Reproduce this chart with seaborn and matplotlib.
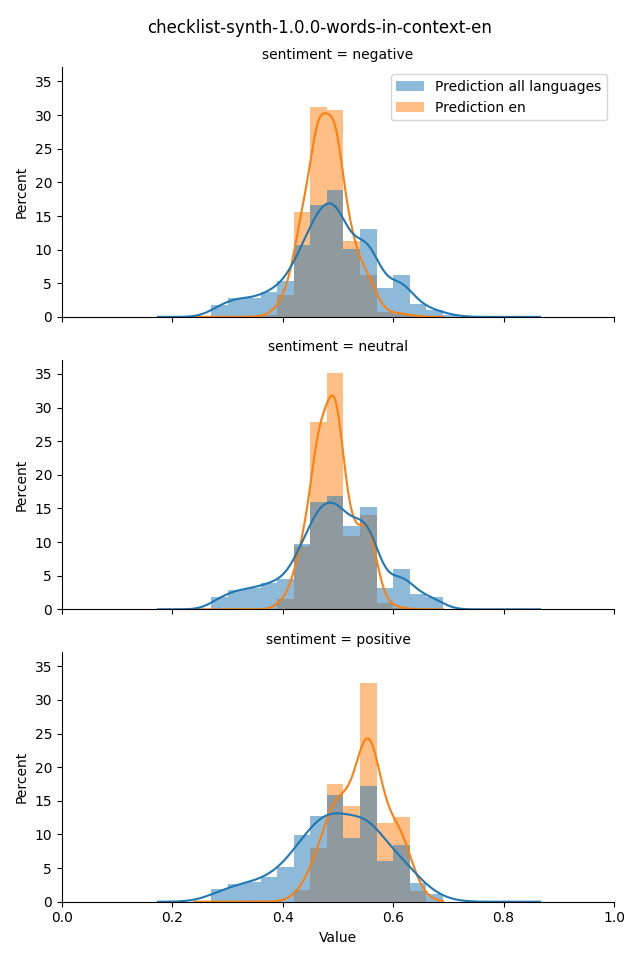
import numpy as np
import pandas as pd
import matplotlib
matplotlib.use("Agg")
import matplotlib.pyplot as plt
import seaborn as sns

# bin edges 0.18 .. 0.87, step 0.03 (23 bins)
bin_edges = [round(0.18 + 0.03 * i, 2) for i in range(24)]
sentiments = ["negative", "neutral", "positive"]
series_labels = ["Prediction all languages", "Prediction en"]

# percent per bin
all_negative = [0, 0, 0.1, 1.8, 2.9, 2.8, 3.8, 5.4, 10.7, 16.7, 19.0, 10.2,
                13.2, 4.4, 6.3, 2.0, 1.1, 0.3, 0, 0, 0, 0, 0]
en_negative = [0, 0, 0, 0, 0, 0, 0.3, 3.2, 15.6, 31.4, 30.9, 11.4,
               6.3, 0.8, 0.5, 0.1, 0, 0, 0, 0, 0, 0, 0]

all_neutral = [0, 0, 0, 1.8, 2.9, 3.1, 3.9, 4.5, 9.7, 15.9, 16.8, 12.3,
               15.1, 3.2, 6.0, 2.3, 1.8, 0, 0, 0, 0, 0, 0]
en_neutral = [0, 0, 0, 0, 0, 0, 0, 1.5, 9.4, 27.8, 35.2, 10.9,
              14.0, 1.0, 0.2, 0, 0, 0, 0, 0, 0, 0, 0]

all_positive = [0, 0, 0, 1.9, 2.6, 2.9, 3.7, 5.2, 9.9, 12.7, 15.8, 9.5,
                17.2, 6.0, 8.4, 2.8, 1.2, 0, 0, 0, 0, 0, 0]
en_positive = [0, 0, 0, 0, 0, 0, 0, 0, 1.8, 8.0, 17.6, 14.2,
               32.6, 11.8, 12.7, 1.6, 0, 0, 0, 0, 0, 0, 0]

# range of the raw predictions (kde support)
kde_support = {"Prediction all languages": (0.174, 0.866),
               "Prediction en": (0.24, 0.69)}

data = {
    "negative": (all_negative, en_negative),
    "neutral": (all_neutral, en_neutral),
    "positive": (all_positive, en_positive),
}

# kde smoothing per panel (all languages, en)
bw = {"negative": (0.38, 0.5), "neutral": (0.38, 0.5), "positive": (0.55, 0.55)}


def main():
    centers = [(a + b) / 2 for a, b in zip(bin_edges[:-1], bin_edges[1:])]
    colors = sns.color_palette("tab10")[:2]

    fig, axes = plt.subplots(3, 1, figsize=(6.4, 9.6), sharex=True, sharey=True)
    for ax, sent in zip(axes, sentiments):
        series = list(zip(series_labels, data[sent], colors, bw[sent]))
        # en first so the all-languages bars sit on top (grey overlap)
        for label, heights, color, adj in reversed(series):
            df = pd.DataFrame({"Value": centers, "w": heights})
            sns.histplot(data=df, x="Value", weights="w", bins=bin_edges,
                         stat="percent", kde=True, color=color, alpha=0.5,
                         linewidth=0, label=label, ax=ax,
                         kde_kws=dict(bw_adjust=adj, cut=3,
                                      clip=kde_support[label]))
        ax.set_title(f"sentiment = {sent}", fontsize=10)
        ax.set_ylabel("Percent")
        ax.set_xlabel("")
        sns.despine(ax=ax)

    axes[-1].set_xlabel("Value")
    axes[0].set_xlim(0, 1)
    axes[0].set_ylim(0, 37.1)
    handles, labels = axes[0].get_legend_handles_labels()
    axes[0].legend(handles[::-1], labels[::-1], loc="upper right")
    fig.suptitle("checklist-synth-1.0.0-words-in-context-en")
    fig.tight_layout()
    fig.savefig("out.png", dpi=100)
    plt.close(fig)


if __name__ == "__main__":
    main()
